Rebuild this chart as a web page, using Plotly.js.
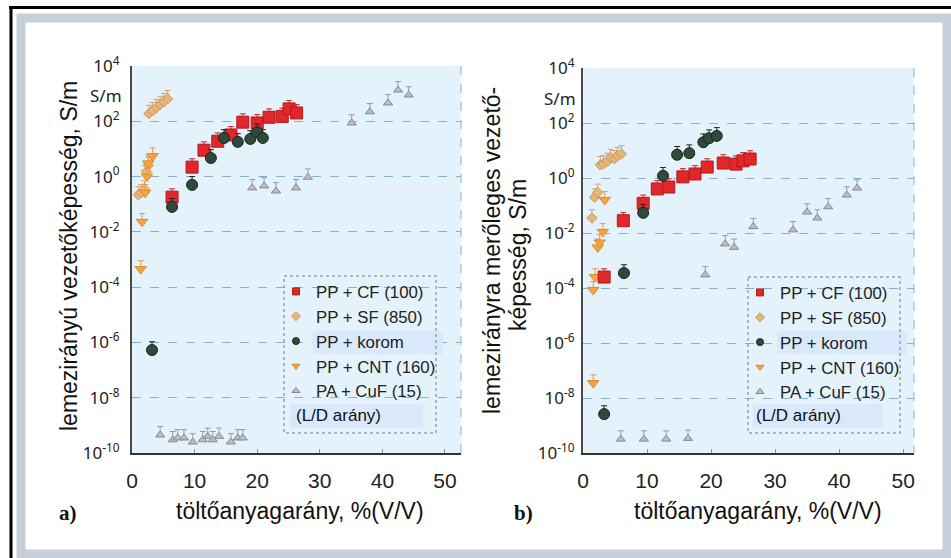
<!DOCTYPE html>
<html>
<head>
<meta charset="utf-8">
<script src="https://cdn.plot.ly/plotly-3.0.1.min.js"></script>
<style>html,body{margin:0;padding:0;background:#fff;}#chart{width:951px;height:558px;}</style>
</head>
<body>
<div id="chart"></div>
<script>
// ---- Data (panel a: in-plane conductivity) ----
const cfA_x = [6.4, 9.6, 11.5, 13.7, 15.8, 17.7, 20.0, 21.9, 24.0, 25.1, 26.3];
const cfA_y = [0.18, 2.2, 9, 19, 32, 93, 87, 140, 150, 280, 200];
const sfA_x = [1.0, 1.5, 2.0, 2.3, 2.6, 2.7, 3.3, 3.9, 4.5, 5.1, 5.7];
const sfA_y = [0.22, 0.26, 0.35, 1.5, 2.5, 190, 240, 310, 400, 510, 650];
const koromA_x = [3.2, 6.4, 9.6, 12.6, 14.7, 16.9, 18.9, 20.0, 20.9];
const koromA_y = [5.3e-7, 0.08, 0.5, 4.7, 25, 18, 23, 40, 25];
const cntA_x = [1.4, 1.6, 2.1, 2.4, 2.6, 3.3];
const cntA_y = [4.5e-4, 0.023, 0.26, 1.0, 3, 5.5];
const cufA_x = [4.5, 6.5, 7.3, 8.3, 9.7, 11.3, 12.1, 12.9, 13.9, 15.8, 16.9, 17.7, 19.2, 21.1, 23.0, 26.2, 28.1, 35.1, 38.0, 40.9, 42.5, 44.2];
const cufA_y = [4.5e-10, 3e-10, 3.5e-10, 3.5e-10, 2.5e-10, 3e-10, 4e-10, 3e-10, 4e-10, 2.5e-10, 3.5e-10, 3.5e-10, 0.39, 0.46, 0.3, 0.39, 0.95, 87, 220, 460, 1350, 890];

// ---- Data (panel b: through-plane conductivity) ----
const cfB_x = [3.3, 6.3, 9.4, 11.6, 13.4, 15.6, 17.5, 19.4, 21.9, 23.9, 25.0, 26.1];
const cfB_y = [2.5e-4, 0.028, 0.12, 0.4, 0.47, 1.1, 1.4, 2.5, 3.5, 3.2, 4.2, 4.9];
const sfB_x = [1.4, 1.8, 2.3, 2.7, 3.2, 3.8, 4.3, 4.9, 5.4, 6.0];
const sfB_y = [0.035, 0.2, 0.3, 3.0, 3.3, 4.0, 5.5, 5.0, 6.5, 7.5];
const koromB_x = [3.3, 6.4, 9.4, 12.5, 14.7, 16.6, 18.8, 19.7, 20.9];
const koromB_y = [2.6e-9, 3.5e-4, 0.054, 1.2, 7, 8, 20, 28, 34];
const cntB_x = [1.6, 1.6, 1.9, 2.3, 2.6, 3.1, 3.4];
const cntB_y = [3.5e-8, 8.5e-5, 2.5e-4, 0.003, 0.0045, 0.011, 0.16];
const cufB_x = [5.9, 9.5, 13.0, 16.4, 19.1, 22.2, 23.6, 26.6, 32.8, 35.0, 36.6, 38.3, 41.2, 42.8];
const cufB_y = [3.2e-10, 3.2e-10, 3.2e-10, 3.4e-10, 3e-4, 0.004, 0.003, 0.017, 0.013, 0.058, 0.035, 0.09, 0.24, 0.43];

// ---- Labels ----
const seriesNames = ['PP + CF (100)', 'PP + SF (850)', 'PP + korom', 'PP + CNT (160)', 'PA + CuF (15)'];
const yTickVals = [1e-10, 1e-8, 1e-6, 1e-4, 1e-2, 1e0, 1e2, 1e4];
const yTickText = ['10<sup>-10</sup>', '10<sup>-8</sup>', '10<sup>-6</sup>', '10<sup>-4</sup>', '10<sup>-2</sup>', '10<sup>0</sup>', '10<sup>2</sup>', '10<sup>4</sup>'];
const xTickVals = [0, 10, 20, 30, 40, 50];
const yTitleA = 'lemezirányú vezetőképesség, S/m';
const yTitleB1 = 'lemezirányra merőleges vezető-';
const yTitleB2 = 'képesség, S/m';
const xTitle = 'töltőanyagarány, %(V/V)';

// ---- Styles ----
const styles = [
  {symbol: 'square', size: 12, color: '#e2262a', line: '#b01c1e', err: '#c22a2a'},
  {symbol: 'diamond', size: 8, color: '#e6b57c', line: '#cf9a5e', err: '#d8a06a'},
  {symbol: 'circle', size: 11, color: '#2e4a3b', line: '#17261d', err: '#222222'},
  {symbol: 'triangle-down', size: 10, color: '#f4a444', line: '#e08b2c', err: '#e89a45'},
  {symbol: 'triangle-up', size: 8, color: '#bcbcc4', line: '#8a8a94', err: '#9a9aa2'}
];

function mk(xs, ys, si, xa, ya) {
  const s = styles[si];
  return {
    type: 'scatter', mode: 'markers', x: xs, y: ys, xaxis: xa, yaxis: ya,
    showlegend: false, hoverinfo: 'x+y',
    marker: {symbol: s.symbol, size: s.size, color: s.color, line: {color: s.line, width: 1}},
    error_y: {type: 'percent', symmetric: false, value: 100, valueminus: 0, color: s.err, thickness: 1, width: 3}
  };
}
function leg(si, lg) {
  const s = styles[si];
  return {
    type: 'scatter', mode: 'markers', x: [null], y: [null], name: seriesNames[si],
    legend: lg, xaxis: lg === 'legend' ? 'x' : 'x2', yaxis: lg === 'legend' ? 'y' : 'y2',
    marker: {symbol: s.symbol, size: 7, color: s.color, line: {color: s.line, width: 1}}
  };
}

const data = [
  mk(cufA_x, cufA_y, 4, 'x', 'y'),
  mk(sfA_x, sfA_y, 1, 'x', 'y'),
  mk(cntA_x, cntA_y, 3, 'x', 'y'),
  mk(cfA_x, cfA_y, 0, 'x', 'y'),
  mk(koromA_x, koromA_y, 2, 'x', 'y'),
  mk(cufB_x, cufB_y, 4, 'x2', 'y2'),
  mk(sfB_x, sfB_y, 1, 'x2', 'y2'),
  mk(cntB_x, cntB_y, 3, 'x2', 'y2'),
  mk(cfB_x, cfB_y, 0, 'x2', 'y2'),
  mk(koromB_x, koromB_y, 2, 'x2', 'y2')
];
for (let i = 0; i < 5; i++) data.push(leg(i, 'legend'));
for (let i = 0; i < 5; i++) data.push(leg(i, 'legend2'));

const W = 951, H = 558;
const px = v => v / W, py = v => 1 - v / H;

const tickFont = {family: 'Noto Sans, DejaVu Sans, sans-serif', size: 17, color: '#222'};
const xTickFont = {family: 'Liberation Sans, Arial, sans-serif', size: 21, color: '#222'};

function yaxis(domTop, standoff) {
  return {
    type: 'log', range: [-10, 4], domain: [py(453), py(domTop)],
    tickmode: 'array', tickvals: yTickVals, ticktext: yTickText,
    tickfont: tickFont, ticks: '', ticklabelstandoff: standoff,
    showgrid: true, gridcolor: '#86b2cf', griddash: 'dash', gridwidth: 1,
    showline: true, linecolor: '#4a4a4a', linewidth: 2, zeroline: false, fixedrange: true
  };
}
function xaxis(l, r, rangeMax, anchor) {
  return {
    range: [0, rangeMax], domain: [px(l), px(r)], anchor: anchor,
    tickmode: 'array', tickvals: xTickVals, tickfont: xTickFont,
    ticks: 'inside', ticklen: 4, tickcolor: '#7a9ab0', ticklabelstandoff: 8,
    showgrid: false, showline: true, linecolor: '#333', linewidth: 2, zeroline: false, fixedrange: true
  };
}

const legendFont = {family: 'Liberation Sans, Arial, sans-serif', size: 16.8, color: '#222'};

const shapes = [
  // outer frame
  {type: 'rect', xref: 'paper', yref: 'paper', x0: px(21), x1: px(947), y0: py(18), y1: py(554), line: {color: '#c6cfda', width: 9}, fillcolor: 'rgba(0,0,0,0)', layer: 'below'},
  {type: 'line', xref: 'paper', yref: 'paper', x0: px(9), x1: px(960), y0: py(7.5), y1: py(7.5), line: {color: '#000', width: 3}},
  {type: 'line', xref: 'paper', yref: 'paper', x0: px(11), x1: px(11), y0: py(6), y1: py(570), line: {color: '#000', width: 3}},
  // plot right dashed borders
  {type: 'line', xref: 'paper', yref: 'paper', x0: px(461), x1: px(461), y0: py(66), y1: py(453), line: {color: '#86b2cf', width: 1, dash: 'dash'}},
  {type: 'line', xref: 'paper', yref: 'paper', x0: px(914), x1: px(914), y0: py(68), y1: py(453), line: {color: '#86b2cf', width: 1, dash: 'dash'}},
  // highlight rects (panel a)
  {type: 'rect', xref: 'paper', yref: 'paper', x0: px(313), x1: px(443), y0: py(331), y1: py(354), fillcolor: '#d9e9fb', line: {width: 0}},
  {type: 'rect', xref: 'paper', yref: 'paper', x0: px(290), x1: px(423), y0: py(404), y1: py(428), fillcolor: '#d9e9fb', line: {width: 0}},
  // highlight rects (panel b)
  {type: 'rect', xref: 'paper', yref: 'paper', x0: px(777), x1: px(907), y0: py(331), y1: py(354), fillcolor: '#d9e9fb', line: {width: 0}},
  {type: 'rect', xref: 'paper', yref: 'paper', x0: px(753), x1: px(883), y0: py(404), y1: py(428), fillcolor: '#d9e9fb', line: {width: 0}},
  // legend dashed boxes
  {type: 'rect', xref: 'paper', yref: 'paper', x0: px(284), x1: px(436), y0: py(276), y1: py(433), line: {color: '#8aa4c0', width: 1.5, dash: 'dot'}, fillcolor: 'rgba(0,0,0,0)'},
  {type: 'rect', xref: 'paper', yref: 'paper', x0: px(748), x1: px(900), y0: py(277), y1: py(433), line: {color: '#8aa4c0', width: 1.5, dash: 'dot'}, fillcolor: 'rgba(0,0,0,0)'}
];

const titleFont = {family: 'Liberation Sans, Arial, sans-serif', size: 23, color: '#111'};
const annotations = [
  {xref: 'paper', yref: 'paper', x: px(69), y: py(256), text: yTitleA, textangle: -90, showarrow: false, font: titleFont, xanchor: 'center', yanchor: 'middle'},
  {xref: 'paper', yref: 'paper', x: px(492), y: py(251), text: yTitleB1, textangle: -90, showarrow: false, font: titleFont, xanchor: 'center', yanchor: 'middle'},
  {xref: 'paper', yref: 'paper', x: px(518), y: py(255), text: yTitleB2, textangle: -90, showarrow: false, font: titleFont, xanchor: 'center', yanchor: 'middle'},
  {xref: 'paper', yref: 'paper', x: px(300), y: py(511), text: xTitle, showarrow: false, font: titleFont, xanchor: 'center', yanchor: 'middle'},
  {xref: 'paper', yref: 'paper', x: px(758), y: py(511), text: xTitle, showarrow: false, font: titleFont, xanchor: 'center', yanchor: 'middle'},
  {xref: 'paper', yref: 'paper', x: px(57), y: py(513), text: '<b>a)</b>', showarrow: false, font: {family: 'Liberation Serif, Times New Roman, serif', size: 21, color: '#111'}, xanchor: 'left', yanchor: 'middle'},
  {xref: 'paper', yref: 'paper', x: px(512), y: py(513), text: '<b>b)</b>', showarrow: false, font: {family: 'Liberation Serif, Times New Roman, serif', size: 21, color: '#111'}, xanchor: 'left', yanchor: 'middle'},
  {xref: 'paper', yref: 'paper', x: px(124), y: py(95), text: 'S/m', showarrow: false, font: tickFont, xanchor: 'right', yanchor: 'middle'},
  {xref: 'paper', yref: 'paper', x: px(578), y: py(98), text: 'S/m', showarrow: false, font: tickFont, xanchor: 'right', yanchor: 'middle'},
  {xref: 'paper', yref: 'paper', x: px(294), y: py(415), text: '(L/D arány)', showarrow: false, font: {family: 'Liberation Sans, Arial, sans-serif', size: 17, color: '#111'}, xanchor: 'left', yanchor: 'middle'},
  {xref: 'paper', yref: 'paper', x: px(754), y: py(415), text: '(L/D arány)', showarrow: false, font: {family: 'Liberation Sans, Arial, sans-serif', size: 17, color: '#111'}, xanchor: 'left', yanchor: 'middle'}
];

const layout = {
  width: W, height: H,
  margin: {l: 0, r: 0, t: 0, b: 0},
  paper_bgcolor: '#ffffff', plot_bgcolor: '#e4f2fb',
  showlegend: true,
  xaxis: xaxis(132, 461, 52.56, 'y'),
  yaxis: Object.assign(yaxis(66, 7), {anchor: 'x'}),
  xaxis2: xaxis(583, 914, 51.7, 'y2'),
  yaxis2: Object.assign(yaxis(68, 3), {anchor: 'x2'}),
  legend: {x: px(276), y: py(274), xanchor: 'left', yanchor: 'top', bgcolor: 'rgba(0,0,0,0)', borderwidth: 0, font: legendFont, itemwidth: 30, tracegroupgap: 0},
  legend2: {x: px(740), y: py(275), xanchor: 'left', yanchor: 'top', bgcolor: 'rgba(0,0,0,0)', borderwidth: 0, font: legendFont, itemwidth: 30, tracegroupgap: 0},
  shapes: shapes,
  annotations: annotations
};

Plotly.newPlot('chart', data, layout, {displayModeBar: false, staticPlot: true});
</script>
</body>
</html>
